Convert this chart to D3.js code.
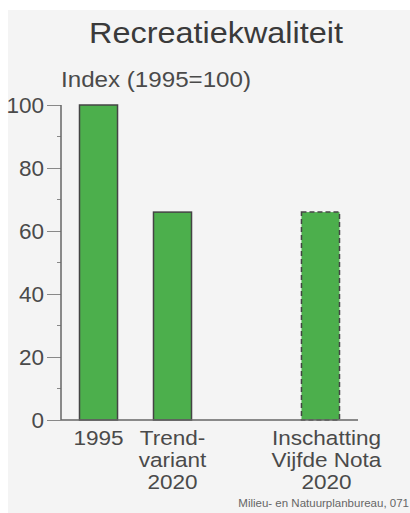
<!DOCTYPE html>
<html><head><meta charset="utf-8">
<script src="https://cdn.jsdelivr.net/npm/d3@7/dist/d3.min.js"></script>
<style>
html,body{margin:0;padding:0;background:#fff;}
svg{display:block;}
text{font-family:"Liberation Sans",Arial,sans-serif;}
</style></head>
<body>
<script>
const title = "Recreatiekwaliteit";
const yAxisTitle = "Index (1995=100)";
const categories = ["1995", "Trend-variant 2020", "", "Inschatting Vijfde Nota 2020"];
const categoryLabels = [["1995"], ["Trend-", "variant", "2020"], [], ["Inschatting", "Vijfde Nota", "2020"]];
const values = [100, 66, null, 66];
const dashed = [false, false, false, true];
const majorTicks = [0, 20, 40, 60, 80, 100];
const minorTicks = [10, 30, 50, 70, 90];
const source = "Milieu- en Natuurplanbureau, 071";

const W = 410, H = 513;
const svg = d3.select("body").append("svg").attr("width", W).attr("height", H);
svg.append("rect").attr("x", 8).attr("y", 10).attr("width", W - 8).attr("height", H - 10).attr("fill", "#f4f4f4");

const y = d3.scaleLinear().domain([0, 100]).range([420, 105]);
const x = d3.scaleBand().domain(categories).range([61, 358]).paddingInner(0.486).paddingOuter(0.25);

svg.append("text").attr("x", 216).attr("y", 43).attr("text-anchor", "middle")
  .attr("font-size", 29).attr("fill", "#3a3a3a").attr("textLength", 254).attr("lengthAdjust", "spacingAndGlyphs").text(title);
svg.append("text").attr("x", 61).attr("y", 87).attr("font-size", 22).attr("fill", "#4a4a4a")
  .attr("textLength", 190).attr("lengthAdjust", "spacingAndGlyphs").text(yAxisTitle);

// bars
const bars = categories.map((c, i) => ({c, v: values[i], d: dashed[i]})).filter(b => b.v != null);
svg.selectAll("rect.bar").data(bars).enter().append("rect").attr("class", "bar")
  .attr("x", d => x(d.c)).attr("width", x.bandwidth())
  .attr("y", d => y(d.v)).attr("height", d => y(0) - y(d.v))
  .attr("fill", "#4caf4c").attr("stroke", "#444").attr("stroke-width", 1.5)
  .attr("stroke-dasharray", d => d.d ? "5,3" : null);

// y axis
const gy = svg.append("g").attr("transform", "translate(61,0)")
  .call(d3.axisLeft(y).tickValues(majorTicks).tickSize(14).tickPadding(3).tickSizeOuter(0));
gy.select(".domain").remove();
gy.selectAll(".tick line").attr("stroke", "#888").attr("stroke-width", 1);
gy.selectAll(".tick text").attr("font-size", 22.5).attr("fill", "#4a4a4a").attr("font-family", "Liberation Sans, Arial, sans-serif");
svg.append("g").selectAll("line").data(minorTicks).enter().append("line")
  .attr("x1", 57).attr("x2", 61).attr("y1", d => y(d)).attr("y2", d => y(d)).attr("stroke", "#888");
svg.append("line").attr("x1", 61).attr("x2", 61).attr("y1", y(100)).attr("y2", y(0)).attr("stroke", "#666").attr("stroke-width", 1.5);
svg.append("line").attr("x1", 61).attr("x2", 358).attr("y1", y(0)).attr("y2", y(0)).attr("stroke", "#666").attr("stroke-width", 1.5);

// category labels (slightly widened like the reference)
categories.forEach((c, i) => {
  categoryLabels[i].forEach((line, j) => {
    const t = svg.append("text").attr("x", x(c) + x.bandwidth() / 2 + (i === 3 ? 6 : 0)).attr("y", 445 + j * 22)
      .attr("text-anchor", "middle").attr("font-size", 20.5).attr("fill", "#4a4a4a").text(line);
    const w = t.node().getComputedTextLength();
    t.attr("textLength", w * 1.1).attr("lengthAdjust", "spacingAndGlyphs");
  });
});

svg.append("text").attr("x", 409).attr("y", 507).attr("text-anchor", "end").attr("font-size", 11.5)
  .attr("fill", "#666").text(source);
</script>
</body></html>
